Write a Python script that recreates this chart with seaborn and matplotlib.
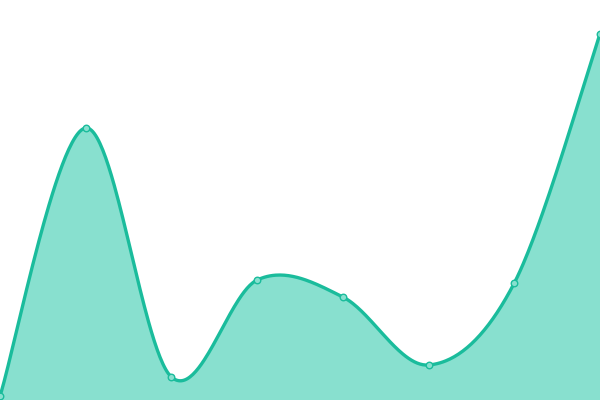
import numpy as np
import pandas as pd
import matplotlib
matplotlib.use("Agg")
import matplotlib.pyplot as plt
import seaborn as sns

# data (pixel height from the bottom edge)
x_idx = [0, 1, 2, 3, 4, 5, 6, 7]
values = [4, 272, 23, 120, 103, 35, 117, 366]

LINE = "#1abc9c"
FILL = "#88e0cf"


def catmull_rom(x, y, n=60):
    # smooth path through the points, like a cardinal spline
    x = np.asarray(x, float)
    y = np.asarray(y, float)
    px = np.concatenate([[x[0]], x, [x[-1]]])
    py = np.concatenate([[y[0]], y, [y[-1]]])
    xs, ys = [], []
    for i in range(1, len(px) - 2):
        t = np.linspace(0, 1, n, endpoint=False)
        for p, out in ((px, xs), (py, ys)):
            p0, p1, p2, p3 = p[i - 1], p[i], p[i + 1], p[i + 2]
            out.append(0.5 * ((2 * p1) + (-p0 + p2) * t
                              + (2 * p0 - 5 * p1 + 4 * p2 - p3) * t ** 2
                              + (-p0 + 3 * p1 - 3 * p2 + p3) * t ** 3))
    xs.append([x[-1]])
    ys.append([y[-1]])
    return np.concatenate(xs), np.concatenate(ys)


sx, sy = catmull_rom(x_idx, values)
curve = pd.DataFrame({"x": sx, "y": sy})
pts = pd.DataFrame({"x": x_idx, "y": values})

sns.set_style("white")
fig = plt.figure(figsize=(6, 4), dpi=100)
ax = fig.add_axes([0, 0, 1, 1])

ax.fill_between(curve["x"], curve["y"], 0, color=FILL, linewidth=0)
sns.lineplot(data=curve, x="x", y="y", ax=ax, color=LINE, linewidth=2.4,
             sort=False, estimator=None)
sns.scatterplot(data=pts, x="x", y="y", ax=ax, color=FILL, edgecolor=LINE,
                linewidth=1.0, s=22, zorder=5)

ax.set_xlim(0, 7)
ax.set_ylim(0, 400)
ax.set_axis_off()

fig.savefig("out.png", dpi=100)
